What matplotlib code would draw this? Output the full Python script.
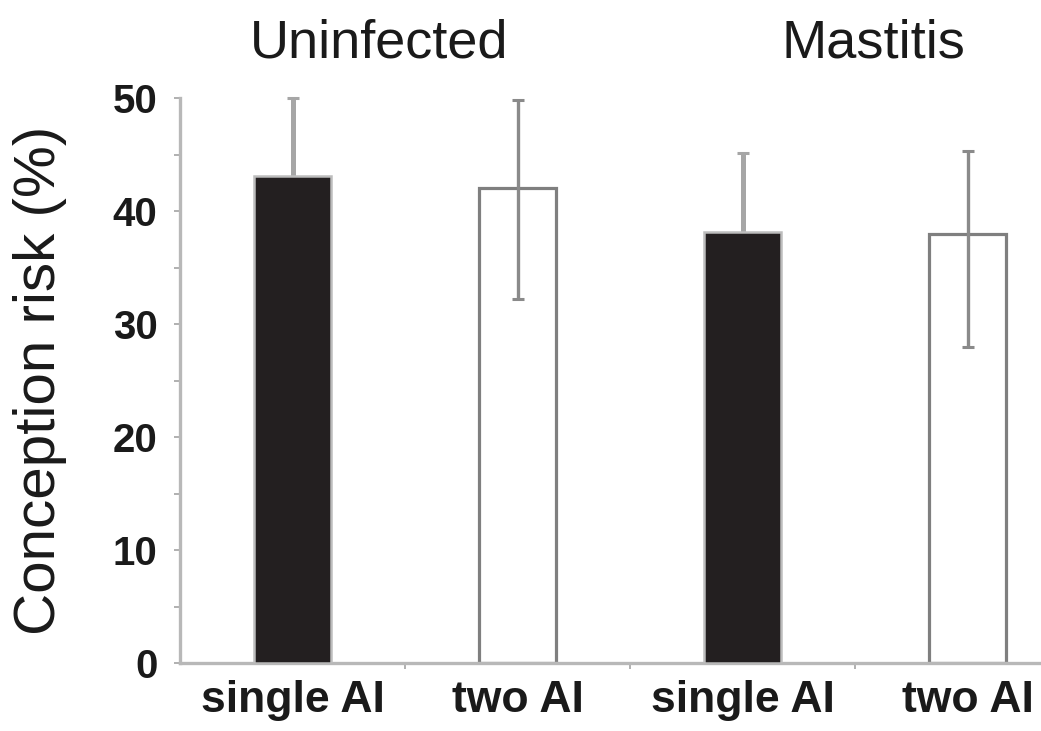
import matplotlib
matplotlib.use("Agg")
import matplotlib.pyplot as plt
import numpy as np

# ---- data ----
categories = ["single AI", "two AI", "single AI", "two AI"]
groups = ["Uninfected", "Mastitis"]
conception_risk = [43.1, 42.0, 38.1, 38.0]
err_upper = [6.9, 7.8, 7.0, 7.3]
err_lower = [9.0, 9.8, 9.5, 10.0]
y_ticks = [0, 10, 20, 30, 40, 50]
y_label = "Conception risk (%)"

plt.rcParams["font.family"] = ["Liberation Sans", "DejaVu Sans"]

fig = plt.figure(figsize=(10.41, 7.31), dpi=100)
ax = fig.add_axes([180 / 1041, 68 / 731, 900 / 1041, 565 / 731])

x = np.arange(len(categories))
fills = ["#231f20", "white", "#231f20", "white"]
edges = ["#bdbdbd", "#7f7f7f", "#bdbdbd", "#7f7f7f"]
ecol = ["#a6a6a6", "#8a8a8a", "#a6a6a6", "#8a8a8a"]
elw = [3.6, 2.4, 3.6, 2.4]

for i in range(len(categories)):
    is_dark = fills[i] != "white"
    ax.bar(x[i], conception_risk[i], width=0.345, color=fills[i],
           edgecolor=edges[i], linewidth=1.8 if is_dark else 2.3,
           zorder=3 if is_dark else 1)
    ax.errorbar(x[i], conception_risk[i],
                yerr=[[err_lower[i]], [err_upper[i]]],
                fmt="none", ecolor=ecol[i], elinewidth=elw[i],
                capsize=4.5, capthick=2.2, zorder=2, clip_on=False)

ax.set_xlim(-0.5, len(categories) - 0.5)
ax.set_ylim(0, 50)

for s in ["top", "right"]:
    ax.spines[s].set_visible(False)
for s in ["left", "bottom"]:
    ax.spines[s].set_color("#b8b8b8")
    ax.spines[s].set_linewidth(2.4)

ax.set_yticks(y_ticks)
ax.set_yticklabels([str(t) for t in y_ticks], fontsize=29, fontweight="bold",
                   color="#1a1a1a")
ax.set_yticks(np.arange(5, 50, 10), minor=True)
ax.tick_params(axis="y", which="both", direction="out", length=4.3,
               width=1.4, color="#b0b0b0", pad=12)

ax.set_xticks(x)
ax.set_xticklabels(categories, fontsize=32, fontweight="bold", color="#1a1a1a")
ax.set_xticks(np.arange(0.5, len(categories) - 0.5, 1.0), minor=True)
ax.tick_params(axis="x", which="major", length=0, pad=12)
ax.tick_params(axis="x", which="minor", direction="out", length=4.5,
               width=1.4, color="#b0b0b0")

ax.set_ylabel(y_label, fontsize=42, color="#1a1a1a")
ax.yaxis.set_label_coords(-0.1256, 0.5)

fig.text(379 / 1041, 1 - 57 / 731, groups[0], ha="center", va="baseline",
         fontsize=39, color="#1a1a1a")
fig.text(873 / 1041, 1 - 57 / 731, groups[1], ha="center", va="baseline",
         fontsize=39, color="#1a1a1a")

fig.savefig("out.png", dpi=100)
